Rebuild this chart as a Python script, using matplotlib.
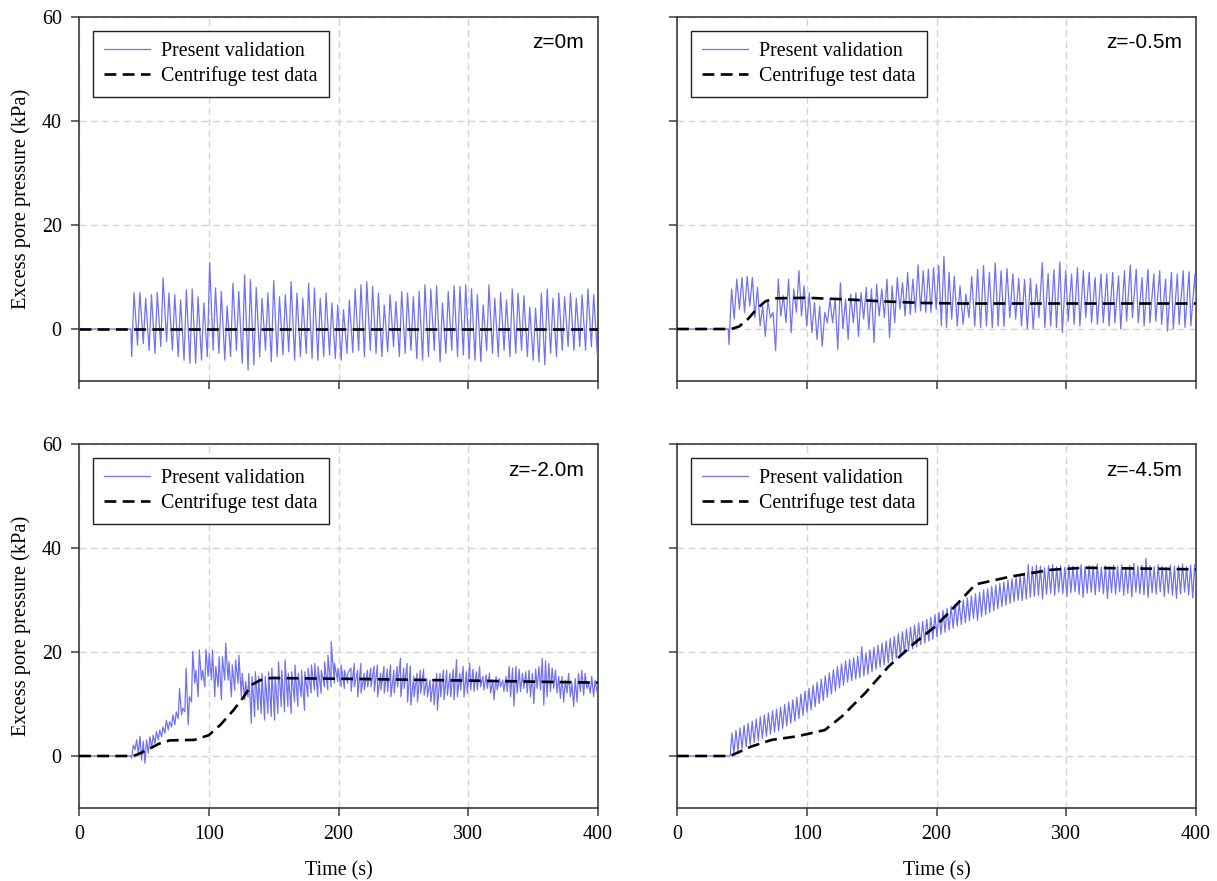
import numpy as np
import matplotlib
matplotlib.use("Agg")
import matplotlib.pyplot as plt

# ------------------------------------------------------------------ data
panel_labels = ["z=0m", "z=-0.5m", "z=-2.0m", "z=-4.5m"]
legend_labels = ["Present validation", "Centrifuge test data"]
x_ticks = [0, 100, 200, 300, 400]
y_ticks = [0, 20, 40, 60]
x_label = "Time (s)"
y_label = "Excess pore pressure (kPa)"

# ---- z = 0 m (top-left): simulated peaks / troughs (kPa)
tl_onset = 40.0
tl_peak_span = [(42.4, 396.7)]
tl_peaks = [[7.0, 7.0, 5.9, 6.6, 7.0, 9.8, 6.9, 6.6, 5.6, 7.5,
             7.7, 6.2, 5.0, 12.8, 7.9, 7.2, 4.4, 8.8, 7.2, 10.4,
             9.5, 8.0, 5.9, 6.9, 9.3, 6.2, 6.6, 9.1, 6.9, 5.9,
             8.8, 7.9, 5.9, 6.9, 5.0, 4.6, 3.7, 5.6,
             7.7, 8.5, 9.1, 8.2, 6.9, 4.6, 6.6, 5.3, 7.2, 6.9,
             6.2, 7.2, 8.5, 7.7, 8.3, 5.0, 7.2, 8.3, 8.2, 8.5,
             7.7, 6.6, 4.6, 8.5, 5.9, 7.0, 5.6, 7.7, 6.9, 6.4,
             4.2, 4.0, 6.9, 7.7, 5.9, 6.9, 6.2, 6.9, 5.9, 6.6,
             7.7, 6.6]]
tl_trough_span = [(40.6, 399.4)]
tl_troughs = [[-5.3, -3.1, -2.8, -4.1, -4.7, -3.4, -2.4, -4.1, -5.3, -6.0,
               -6.6, -6.6, -6.0, -5.3, -4.1, -4.7, -6.0, -5.3, -4.1, -6.6,
               -7.9, -6.9, -5.3, -4.1, -6.3, -5.3, -5.0, -4.4, -6.0, -5.3,
               -4.7, -5.7, -6.0, -5.3, -5.0, -5.7, -6.0, -4.7, -4.5,
               -4.1, -5.3, -4.1, -4.7, -5.3, -4.4, -3.4, -5.3, -4.7, -4.1,
               -5.7, -6.0, -5.3, -4.1, -6.3, -4.7, -4.1, -5.3, -5.0, -5.7,
               -6.0, -6.3, -4.1, -4.7, -5.3, -4.1, -5.3, -4.7, -4.1, -5.3,
               -6.0, -6.3, -6.9, -4.7, -5.3, -4.1, -3.4, -4.1, -3.4, -4.1,
               -3.4, -4.7]]
tl_test_t = [0, 400]
tl_test_p = [0, 0]

# ---- z = -0.5 m (top-right)
tr_onset = 39.5
tr_peak_span = [(42.1, 213.7), (218.1, 399.2)]
tr_peaks = [[7.7, 9.6, 9.9, 10.1, 9.9, 8.0, 4.4, 5.4, 3.2, 9.6,
             6.4, 9.6, 7.7, 11.2, 8.3, 7.0, 5.1, 4.4, 3.2, 5.7,
             5.7, 8.9, 5.7, 6.7, 7.0, 7.0, 8.0, 7.7, 8.6, 7.7,
             9.6, 8.3, 9.9, 8.9, 10.9, 9.6, 12.3, 11.2, 11.5, 11.8,
             12.2, 14.0, 10.9, 10.2],
            [8.3, 6.7, 10.1, 11.5, 12.2, 10.9, 12.7, 11.2, 11.6, 10.6,
             9.7, 9.5, 9.7, 8.6, 12.8, 10.7, 11.4, 12.9, 11.2, 10.6,
             11.8, 11.2, 10.9, 9.9, 10.6, 10.6, 10.9, 10.2, 11.2, 12.3,
             11.5, 9.9, 11.5, 10.6, 11.2, 9.6, 10.9, 10.6, 11.2, 11.0,
             10.6]]
tr_trough_span = [(40.1, 211.7), (216.0, 400.5)]
tr_troughs = [[-3.0, 1.9, 3.8, 3.2, 4.4, 2.2, 0.6, -1.4, 2.2, -4.2,
               2.5, 1.2, -0.7, 3.2, 2.5, 0.6, -0.7, -2.0, -3.3, 1.2,
               1.2, -3.9, 0.0, -2.0, 1.2, -1.4, 1.9, 0.0, -2.6, 2.5,
               2.2, -1.7, 1.2, 3.8, 2.5, 2.8, 3.2, 3.5, 3.2, 3.2,
               3.8, 0.6, 0.3, 1.9],
              [0.6, 0.9, 2.2, 0.6, 0.3, 0.6, 0.3, 0.6, 0.5, 2.2,
               1.9, 0.6, 0.0, 0.0, 2.2, 0.3, 0.6, 0.3, -0.7, 1.5,
               0.9, 0.6, 2.2, 1.2, 0.9, 1.2, 0.6, 1.2, 0.0, 1.5,
               2.2, 1.2, 0.6, 1.2, 1.5, 0.9, -0.4, 0.0, 0.9, 0.3,
               0.6, 0.9]]
tr_test_t = [0, 42, 48, 55, 62, 68, 75, 100, 130, 160, 190, 220, 400]
tr_test_p = [0, 0, 0.5, 2.0, 4.0, 5.3, 5.9, 6.0, 5.7, 5.3, 5.0, 4.9, 4.9]

# ---- z = -2.0 m (bottom-left)
bl_onset = 40.0
bl_peak_span = [(41.9, 397.7)]
bl_peaks = [[2.1, 3.1, 3.8, 2.8, 3.1, 3.7, 4.0, 4.7, 5.0, 5.6,
             6.9, 6.6, 7.9, 8.5, 13.0, 9.2, 16.9, 11.4, 20.1, 16.5,
             20.4, 16.5, 20.5, 19.7, 20.4, 17.2, 19.1, 19.1, 21.7, 18.1,
             17.5, 18.5, 19.4, 15.9, 14.3, 15.9, 15.3, 16.2, 15.3, 15.9,
             15.3, 16.2, 16.9, 15.3, 18.1, 16.5, 18.5, 15.9, 16.2, 17.5,
             15.9, 16.5, 16.2, 16.9, 17.5, 17.8, 17.2, 16.5, 18.1, 19.4,
             22.0, 17.8, 16.9, 17.5, 16.5, 15.9, 16.9, 17.8, 16.5, 17.8,
             15.9, 16.5,
             16.9, 17.3, 17.5, 15.9, 17.2, 16.7, 17.5, 16.5, 17.2, 18.8,
             16.9, 17.8, 17.3, 15.3, 15.9, 16.5, 16.7, 14.9, 14.6, 14.6,
             15.9, 15.9, 16.5, 16.5, 15.9, 16.7, 18.5, 15.9, 17.2, 16.2,
             17.8, 16.7, 16.2, 17.2, 15.3, 15.6, 15.9, 14.6, 15.3, 14.9,
             14.6, 15.3, 17.2, 16.9, 17.2, 16.7, 15.9, 16.2, 16.5, 15.9,
             16.7, 17.2, 18.8, 18.3, 17.8, 16.9, 16.5, 15.3, 15.3, 14.6,
             15.9, 14.0, 14.9, 15.9, 16.5, 15.9, 14.0, 15.3, 14.6]]
bl_trough_span = [(40.6, 399.2)]
bl_troughs = [[-0.4, 1.2, 0.2, -0.8, -1.4, 0.5, 1.5, 2.4, 3.1, 3.7,
               4.4, 5.0, 5.6, 6.0, 7.2, 7.9, 8.5, 6.0, 10.4, 14.0,
               11.4, 14.6, 13.3, 15.3, 14.6, 11.4, 13.3, 10.8, 14.6, 14.6,
               11.4, 12.7, 14.0, 11.4, 10.8, 11.4, 6.3, 7.6, 8.8, 8.2,
               6.9, 8.2, 7.6, 6.9, 8.2, 9.5, 8.5, 9.5, 8.2, 10.4,
               9.5, 11.4, 8.8, 11.4, 12.1, 12.7, 11.4, 12.1, 13.3, 12.7,
               13.3, 14.0, 14.3, 13.3, 13.0, 14.0, 12.4, 13.3, 11.4, 12.1,
               12.7, 13.3,
               13.3, 12.4, 11.4, 12.7, 12.1, 12.4, 11.4, 12.1, 13.3, 11.4,
               13.0, 10.4, 9.8, 11.4, 10.4, 12.1, 11.7, 11.4, 10.4, 9.8,
               8.8, 11.4, 10.8, 11.7, 11.4, 10.8, 11.4, 12.7, 11.4, 12.1,
               12.7, 12.4, 12.7, 13.3, 12.7, 13.0, 12.1, 10.8, 12.7, 13.3,
               12.4, 12.4, 11.4, 9.6, 12.1, 12.4, 13.0, 12.1, 11.4, 10.1,
               13.0, 12.7, 9.8, 11.4, 12.4, 13.0, 12.1, 11.1, 10.4, 12.1,
               11.4, 9.5, 10.4, 12.4, 11.7, 13.0, 12.1, 11.4, 12.4]]
bl_test_t = [0, 42, 47, 55, 62, 70, 89, 100, 109, 119, 127, 133, 140, 148, 220, 300, 400]
bl_test_p = [0, 0, 0.5, 1.5, 2.4, 3.0, 3.1, 4.0, 6.0, 8.8, 11.4, 13.7, 14.6, 15.0, 14.8, 14.5, 14.1]

# ---- z = -4.5 m (bottom-right)
br_onset = 41.0
br_peak_span = [(42.3, 399.0)]
br_peaks = [[4.4, 4.9, 5.4, 5.9, 6.3, 6.7, 7.1, 7.5, 7.9, 8.3,
             8.7, 9.0, 9.4, 9.9, 10.4, 10.8, 11.3, 11.9, 12.5, 13.0,
             13.6, 14.2, 14.8, 15.4, 16.0, 16.6, 17.2, 17.7, 18.3, 18.6,
             18.9, 19.2, 21.0, 19.8, 20.4, 20.9, 21.3, 21.7, 22.1, 22.6,
             23.0, 23.5, 23.9, 24.4, 24.8, 25.2, 25.6, 25.9, 26.3, 26.7,
             27.2, 27.6, 28.0, 28.4, 28.8, 29.2, 29.5,
             30.0, 30.4, 30.8, 31.2, 31.5, 31.9, 32.2, 32.6, 32.9, 33.2,
             33.5, 33.8, 34.1, 34.4, 34.8, 35.2, 36.8, 36.4, 36.7, 36.5,
             36.2, 36.6, 36.8, 36.4, 36.6, 36.3, 36.7, 36.5, 36.2, 36.8,
             36.4, 36.6, 36.5, 36.9, 36.3, 36.6, 36.4, 36.7, 36.5, 36.8,
             36.3, 36.6, 37.0, 36.5, 36.7, 38.0, 36.6, 36.4, 36.8, 36.5,
             36.3, 36.7, 36.5, 36.6, 36.9, 36.4, 36.7, 36.8]]
br_trough_span = [(43.9, 400.6)]
br_troughs = [[0.5, 1.0, 1.4, 1.8, 2.2, 2.6, 3.0, 3.4, 3.8, 4.2,
               4.6, 4.9, 5.3, 5.8, 6.3, 6.7, 7.2, 7.8, 8.4, 8.9,
               9.5, 10.1, 10.7, 11.3, 11.9, 12.5, 13.1, 13.6, 14.2, 14.5,
               14.8, 15.1, 15.4, 15.7, 16.2, 16.7, 17.1, 17.5, 17.9, 18.4,
               18.8, 19.3, 19.7, 20.2, 20.6, 21.0, 21.4, 21.7, 22.1, 22.5,
               23.0, 23.4, 23.8, 24.2, 24.6, 25.0, 25.3,
               25.6, 26.0, 26.4, 26.1, 26.8, 27.2, 27.6, 27.9, 28.3, 28.7,
               29.0, 29.4, 29.7, 30.0, 29.9, 30.2, 30.5, 30.7, 30.9, 30.2,
               31.1, 31.3, 30.9, 31.5, 31.2, 30.7, 31.4, 31.6, 31.1, 30.5,
               31.3, 31.5, 31.0, 31.6, 31.2, 30.3, 31.4, 31.1, 31.6, 30.9,
               31.3, 30.6, 31.5, 31.2, 31.0, 30.5, 31.4, 31.1, 31.6, 30.7,
               31.3, 30.9, 30.3, 31.2, 31.5, 31.0, 30.4, 31.1]]
br_test_t = [0, 41, 57, 73, 93, 114, 127, 145, 163, 183, 199, 212, 230, 257, 288, 313, 400]
br_test_p = [0, 0, 1.8, 3.1, 3.8, 5.0, 7.6, 12.1, 17.2, 21.7, 24.9, 28.2, 33.0, 34.5, 35.8, 36.2, 35.9]


# ------------------------------------------------------------------ helpers
def build_wave(onset, peak_span, peaks, trough_span, troughs):
    tp = np.concatenate([np.linspace(a, b, len(v)) for (a, b), v in zip(peak_span, peaks)])
    vp = np.concatenate([np.asarray(v, float) for v in peaks])
    tt = np.concatenate([np.linspace(a, b, len(v)) for (a, b), v in zip(trough_span, troughs)])
    vt = np.concatenate([np.asarray(v, float) for v in troughs])
    t = np.concatenate([[0.0, onset], tp, tt])
    y = np.concatenate([[0.0, 0.0], vp, vt])
    order = np.argsort(t, kind="stable")
    return t[order], y[order]


panels = [
    (tl_onset, tl_peak_span, tl_peaks, tl_trough_span, tl_troughs, tl_test_t, tl_test_p),
    (tr_onset, tr_peak_span, tr_peaks, tr_trough_span, tr_troughs, tr_test_t, tr_test_p),
    (bl_onset, bl_peak_span, bl_peaks, bl_trough_span, bl_troughs, bl_test_t, bl_test_p),
    (br_onset, br_peak_span, br_peaks, br_trough_span, br_troughs, br_test_t, br_test_p),
]

# ------------------------------------------------------------------ figure
W, H = 1217, 881
fig = plt.figure(figsize=(W / 100, H / 100), dpi=100)
fig.patch.set_facecolor("white")

serif = "Liberation Serif"
sans = "Liberation Sans"
blue = "#7272f2"
spine_col = "#3c3c3c"
grid_col = "#d4d4d4"
fs = 14.4

lefts = [79, 677]
tops = [17, 444]
aw, ah = 519, 364

for idx, (onset, psp, pk, tsp, tr, tt_, tp_) in enumerate(panels):
    r, c = divmod(idx, 2)
    x0 = lefts[c]
    y0 = tops[r]
    ax = fig.add_axes([x0 / W, 1 - (y0 + ah) / H, aw / W, ah / H])

    t, y = build_wave(onset, psp, pk, tsp, tr)
    l1, = ax.plot(t, y, color=blue, lw=0.9, zorder=3)
    l2, = ax.plot(tt_, tp_, color="black", lw=1.9, dashes=(4.5, 2.4), zorder=4)

    ax.set_xlim(0, 400)
    ax.set_ylim(-10, 60)
    ax.set_xticks(x_ticks)
    ax.set_yticks(y_ticks)
    ax.grid(True, color=grid_col, lw=1.0, ls=(0, (5, 3)), zorder=0)
    ax.set_axisbelow(True)
    for s in ax.spines.values():
        s.set_color(spine_col)
        s.set_linewidth(1.2)
    ax.tick_params(direction="out", length=6, width=1.1, color=spine_col,
                   labelsize=fs)
    ax.tick_params(axis="x", pad=6)
    ax.tick_params(axis="y", pad=6.5)
    for lab in ax.get_xticklabels() + ax.get_yticklabels():
        lab.set_fontfamily(serif)

    if r == 0:
        ax.tick_params(labelbottom=False)
    else:
        ax.set_xlabel(x_label, fontsize=fs, fontfamily=serif)
        ax.xaxis.set_label_coords(0.5, -0.145)
    if c == 1:
        ax.tick_params(labelleft=False)
    else:
        ax.set_ylabel(y_label, fontsize=fs + 0.3, fontfamily=serif)
        ax.yaxis.set_label_coords(-0.093, 0.5)

    leg = ax.legend([l1, l2], legend_labels, loc="upper left",
                    bbox_to_anchor=(14 / aw, 1 - 14 / ah), borderaxespad=0,
                    prop={"family": serif, "size": fs},
                    frameon=True, fancybox=False, framealpha=1,
                    edgecolor="#222222", handlelength=2.3, handletextpad=0.55,
                    borderpad=0.55, labelspacing=0.25)
    leg.get_frame().set_linewidth(1.0)
    leg.set_zorder(10)

    ax.text(1 - 14 / aw, 1 - 26 / ah, panel_labels[idx], transform=ax.transAxes,
            ha="right", va="center", fontsize=15, fontfamily=sans, zorder=11)

fig.savefig("out.png", dpi=100, facecolor="white")
